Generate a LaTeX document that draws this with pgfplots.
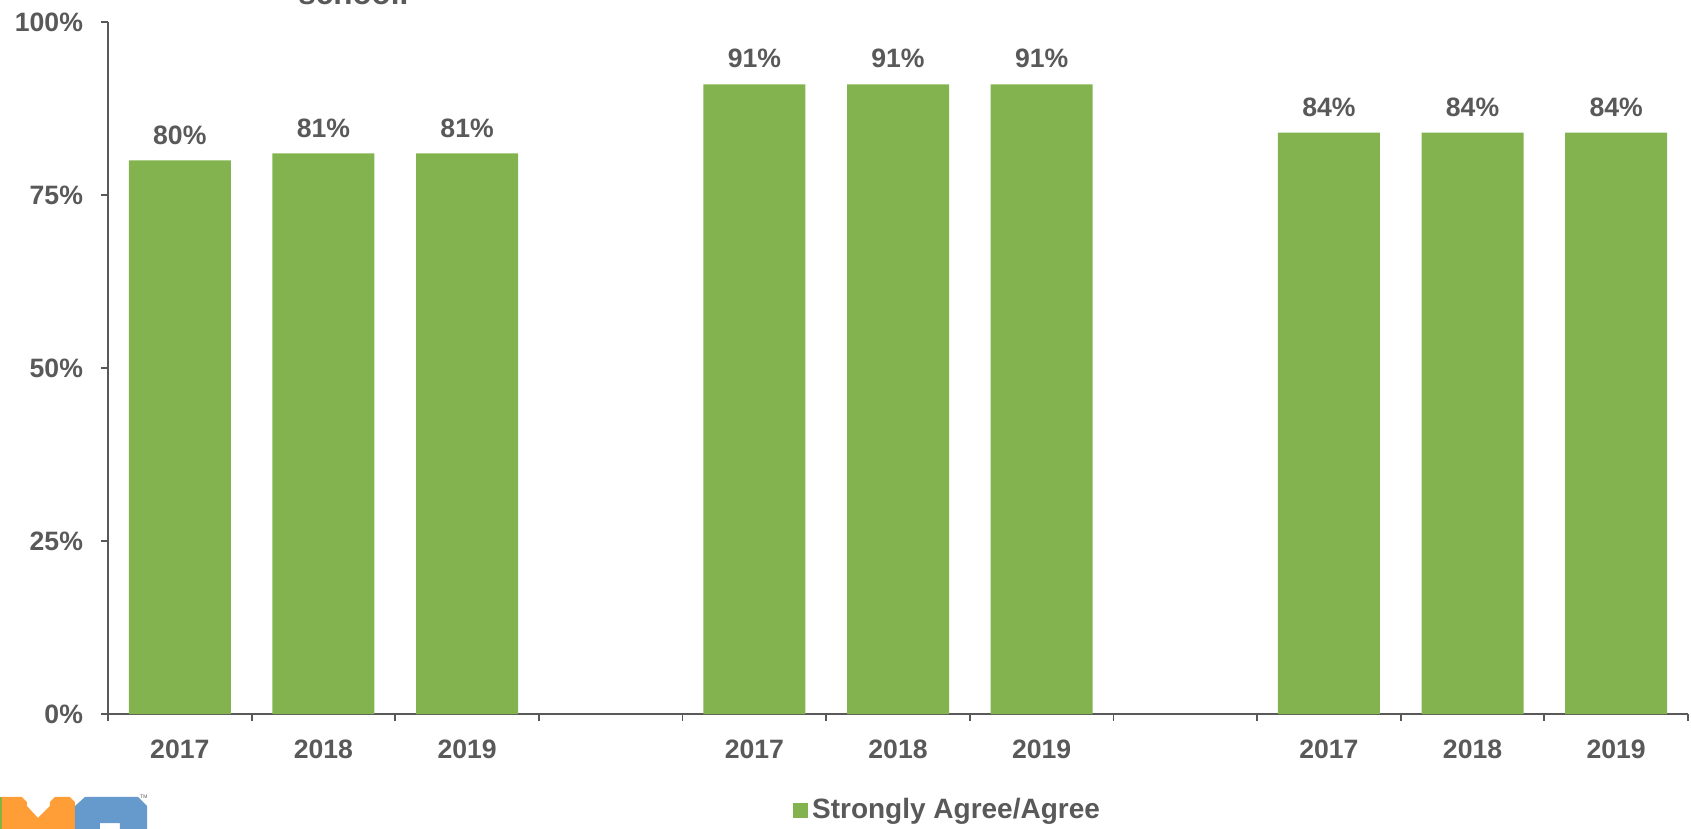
\documentclass[border=0pt]{standalone}
\usepackage{pgfplots}
\pgfplotsset{compat=1.18}
\usepackage{fontspec}
\setmainfont{Liberation Sans}
\definecolor{bargreen}{HTML}{82B34F}
\definecolor{txtgray}{HTML}{595959}
\definecolor{logoorange}{HTML}{FF9E36}
\definecolor{logoblue}{HTML}{6699CC}
\definecolor{logogreen}{HTML}{7FB241}
\newcommand{\lbl}{\fontsize{13.3}{15}\selectfont\bfseries}
\begin{document}
\begin{tikzpicture}
% 1 px of the reference = 0.5pt; axis origin at pixel (108,714)
\useasboundingbox (-54pt,-57.5pt) rectangle (791.5pt,357pt);
\begin{axis}[
  at={(0,0)}, anchor=south west,
  scale only axis, width=790pt, height=346pt,
  xmin=-0.5, xmax=10.5, ymin=0, ymax=100,
  axis lines*=left,
  axis line style={txtgray, line width=0.9pt},
  ybar, bar width=0.71,
  xtick={0,1,2,4,5,6,8,9,10},
  xticklabels={2017,2018,2019,2017,2018,2019,2017,2018,2019},
  minor xtick={-0.5,0.5,...,10.5},
  major x tick style={draw=none},
  minor x tick style={txtgray, line width=0.9pt},
  ytick={0,25,50,75,100},
  yticklabel={\pgfmathprintnumber{\tick}\%},
  y tick style={txtgray, line width=0.9pt},
  tick align=outside,
  major tick length=3.5pt, minor tick length=3.5pt,
  tick label style={font=\lbl, text=txtgray},
  /pgf/number format/assume math mode=true,
  xticklabel style={yshift=-6pt},
  yticklabel style={xshift=-5.5pt},
  nodes near coords={\pgfmathprintnumber{\pgfplotspointmeta}\%},
  nodes near coords style={font=\lbl, text=txtgray, yshift=4.5pt},
  legend style={at={(0.532,-0.139)}, anchor=center, draw=none, fill=none,
    font=\fontsize{14}{16}\selectfont\bfseries, text=txtgray, inner sep=0pt},
  legend image code/.code={\fill[bargreen] (0pt,-3.75pt) rectangle (7.5pt,3.75pt);},
  clip=false,
]
\addplot[fill=bargreen, draw=none] coordinates {
  (0,80) (1,81) (2,81) (4,91) (5,91) (6,91) (8,84) (9,84) (10,84)};
\addlegendentry{Strongly Agree/Agree}
\end{axis}
% cut-off title at the top
\node[anchor=base west, inner sep=0pt, text=txtgray, font=\fontsize{15.7}{18}\selectfont\bfseries]
  at (95pt,354.5pt) {school.};
% logo fragment, bottom left (pixel coordinates)
\begin{scope}[x=0.5pt, y=-0.5pt, shift={(-54pt,357pt)}]
  \fill[logogreen] (0,797) rectangle (2,829);
  \fill[logoorange] (2,829) -- (2,797) -- (22,797) -- (27,802) -- (27,806)
    -- (38,818) -- (50,806) -- (50,802) -- (55,797) -- (70,797) -- (75,802)
    -- (75,829) -- cycle;
  \fill[logoblue] (75,829) -- (75,806) -- (85,797) -- (138,797) -- (147,806)
    -- (147,829) -- (120,829) -- (120,823) -- (100,823) -- (100,829) -- cycle;
  \node[text=txtgray, font=\fontsize{2.5}{3}\selectfont, inner sep=0pt] at (144,797) {TM};
\end{scope}
\end{tikzpicture}
\end{document}
